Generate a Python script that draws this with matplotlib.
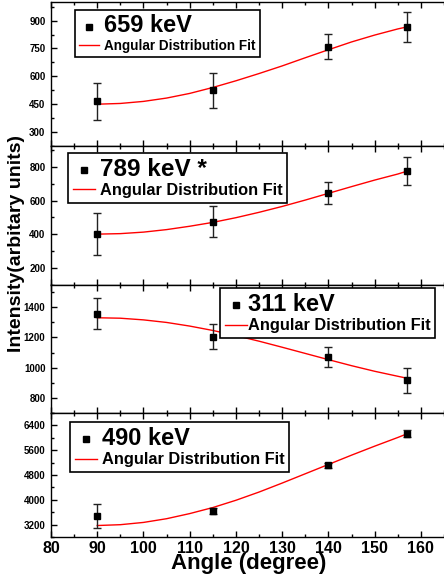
import matplotlib
matplotlib.use("Agg")
import matplotlib.pyplot as plt
from matplotlib.lines import Line2D

plt.rcParams['font.family'] = ['Liberation Sans', 'DejaVu Sans']
plt.rcParams['font.weight'] = 'bold'

# measured points (angle in degrees)
angles = [90, 115, 140, 157]

i659 = [466, 524, 760, 866]
e659 = [100, 93, 66, 80]
i789 = [400, 473, 644, 775]
e789 = [127, 93, 64, 85]
i311 = [1358, 1206, 1070, 917]
e311 = [100, 82, 68, 83]
i490 = [3475, 3630, 5110, 6128]
e490 = [385, 90, 90, 110]

# fit curves
fit_ang = [90, 95, 100, 105, 110, 115, 120, 125, 130, 135, 140, 145, 150, 155, 157]
fit659 = [450, 454, 465, 483, 508, 540, 576, 615, 656, 700, 743, 785, 822, 855, 866]
fit789 = [400, 403, 412, 427, 447, 470, 498, 530, 565, 603, 643, 683, 722, 758, 775]
fit311 = [1330, 1327, 1316, 1299, 1275, 1246, 1212, 1175, 1135, 1094, 1053, 1013, 976, 943, 930]
fit490 = [3170, 3197, 3270, 3390, 3555, 3750, 3985, 4250, 4540, 4840, 5140, 5440, 5730, 6010, 6128]

labels = ["659 keV", "789 keV *", "311 keV", "490 keV"]
ylims = [(300, 1000), (200, 925), (750, 1550), (2800, 6500)]
yticks = [[300, 450, 600, 750, 900], [200, 400, 600, 800],
          [800, 1000, 1200, 1400], [3200, 4000, 4800, 5600, 6400]]

W, H = 444, 577
fig = plt.figure(figsize=(W / 100, H / 100), dpi=100)

# panel edges in pixels from the top
edges = [(2, 146), (146, 284.5), (284.5, 413), (413, 537)]
left_px = 51

# legend: x, y (axes fraction), big size, small size, handlelength, handletextpad
leg_pos = [(0.061, 0.944, 17, 9.75, 1.5, 0.38),
           (0.043, 0.952, 17.5, 11.8, 1.34, 0.3),
           (0.43, 0.973, 17, 11.8, 1.34, 0.05),
           (0.048, 0.927, 17, 11.8, 1.34, 0.3)]

data = [(i659, e659, fit659), (i789, e789, fit789),
        (i311, e311, fit311), (i490, e490, fit490)]

for k, (top, bot) in enumerate(edges):
    ax = fig.add_axes([left_px / W, 1 - bot / H, 1 - left_px / W, (bot - top) / H])
    vals, errs, fit = data[k]
    ax.plot(fit_ang, fit, color='red', lw=1.0, zorder=2)
    ax.errorbar(angles, vals, yerr=errs, fmt='s', color='black', ms=4.5,
                ecolor='#222222', elinewidth=1, capsize=3, capthick=1, zorder=3)
    ax.set_xlim(80, 164.5)
    ax.set_ylim(*ylims[k])
    ax.set_yticks(yticks[k])
    step = yticks[k][1] - yticks[k][0]
    ax.set_yticks([t + step / 2 for t in yticks[k]] + [yticks[k][0] - step / 2], minor=True)
    ax.set_xticks(range(80, 170, 10))
    ax.set_xticks(range(85, 170, 10), minor=True)
    ax.spines['right'].set_visible(False)
    ax.tick_params(which='both', direction='in', top=True, right=False, width=1)
    ax.tick_params(which='major', length=4)
    ax.tick_params(which='minor', length=2)
    ax.tick_params(axis='y', labelsize=7, pad=4)
    for lab in ax.get_yticklabels():
        lab.set_fontweight('bold')
    if k < 3:
        ax.tick_params(axis='x', labelbottom=False)
    else:
        ax.tick_params(axis='x', labelsize=11.5, pad=3)
        for lab in ax.get_xticklabels():
            lab.set_fontweight('bold')
    for sp in ax.spines.values():
        sp.set_linewidth(1)

    x0, y0, big, small, hl, htp = leg_pos[k]
    handles = [Line2D([], [], ls='none', marker='s', color='black', ms=5),
               Line2D([], [], color='red', lw=1)]
    leg = ax.legend(handles, [labels[k], "Angular Distribution Fit"],
                    loc='upper left', bbox_to_anchor=(x0, y0), borderaxespad=0,
                    fancybox=False, edgecolor='black', framealpha=1,
                    prop={'size': small, 'weight': 'bold'},
                    handlelength=hl, handletextpad=htp, labelspacing=0.15,
                    borderpad=0.3)
    leg.get_frame().set_linewidth(1.2)
    leg.get_texts()[0].set_fontsize(big)

fig.text(0.038, 1 - 243 / H, "Intensity(arbitary units)", rotation=90, ha='center',
         va='center', fontsize=14, fontweight='bold')
fig.text(249 / W, 1 - 564 / H, "Angle (degree)", ha='center', va='center',
         fontsize=16, fontweight='bold')

fig.savefig("out.png", dpi=100)
